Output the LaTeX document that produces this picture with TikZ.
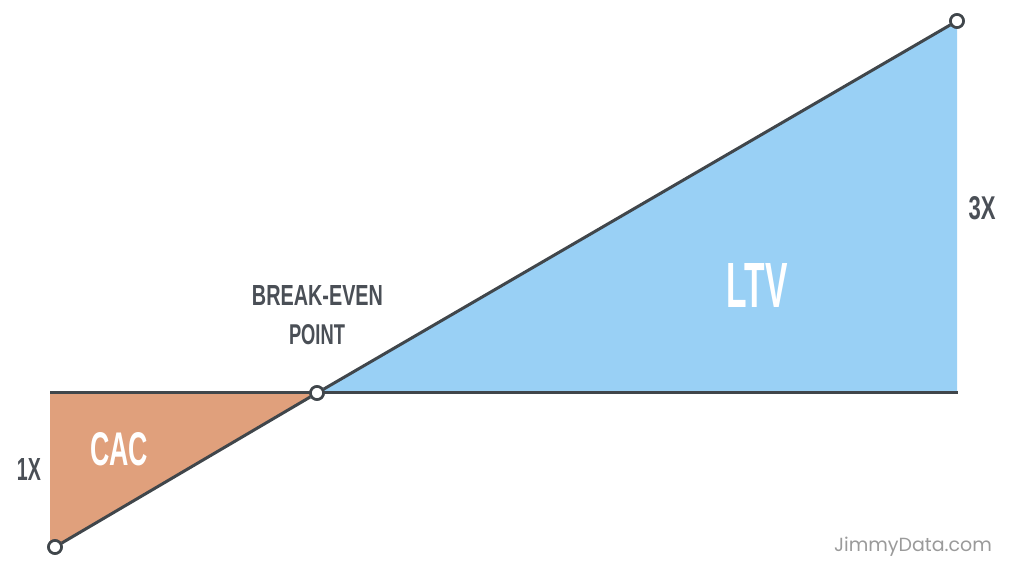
\documentclass[tikz,border=0pt]{standalone}
\usepackage{fontspec}
\setmainfont{Liberation Sans}
\newfontfamily\markfont{Poppins}
\definecolor{linegray}{HTML}{40464B}
\definecolor{textgray}{HTML}{4A4F56}
\definecolor{cacfill}{HTML}{E0A07C}
\definecolor{ltvfill}{HTML}{99D0F5}
\definecolor{markgray}{HTML}{9A9A9A}
\tikzset{
  axisline/.style={draw=linegray, line width=3pt},
  dot/.style={circle, draw=linegray, fill=white, line width=2.6pt, minimum size=13pt, inner sep=0pt},
  lbl/.style={inner sep=0pt, text=textgray, font=\bfseries},
  inlbl/.style={inner sep=0pt, text=white, font=\bfseries},
}
\begin{document}
\begin{tikzpicture}[x=1pt, y=-1pt]
\useasboundingbox (0,0) rectangle (1024,580);
% coordinates
\coordinate (hl) at (50,392);
\coordinate (hr) at (958,392);
\coordinate (cl) at (50,545);
\coordinate (tr) at (957,392);
% fills
\fill[cacfill] (hl) -- (317,392) -- (55,547) -- (cl) -- cycle;
\fill[ltvfill] (317,392) -- (tr) -- (957,21) -- cycle;
% nodes (circles)
\node[dot] (low) at (55,547) {};
\node[dot] (be) at (317,393) {};
\node[dot] (high) at (957,21) {};
% lines
\draw[axisline] (hl) -- (hr);
\draw[axisline] (low) -- (be) -- (high);
% redraw dots on top
\node[dot] at (low) {};
\node[dot] at (be) {};
\node[dot] at (high) {};
% labels
\node[inlbl] (ltv) at (757,285) {\resizebox{61pt}{44pt}{LTV}};
\node[inlbl] (cac) at (119,449) {\resizebox{58pt}{33pt}{CAC}};
\node[lbl] (onex) at (29,469) {\resizebox{24pt}{22pt}{1X}};
\node[lbl] (threex) at (982,208.5) {\resizebox{27pt}{23pt}{3X}};
\node[lbl] (bk1) at (317.5,295) {\resizebox{131pt}{20pt}{BREAK-EVEN}};
\node[lbl] (bk2) at (317,335) {\resizebox{56pt}{20pt}{POINT}};
\node[inner sep=0pt, text=markgray, font=\markfont\fontsize{19}{22}\selectfont] (mark) at (913,547) {JimmyData.com};
\end{tikzpicture}
\end{document}
